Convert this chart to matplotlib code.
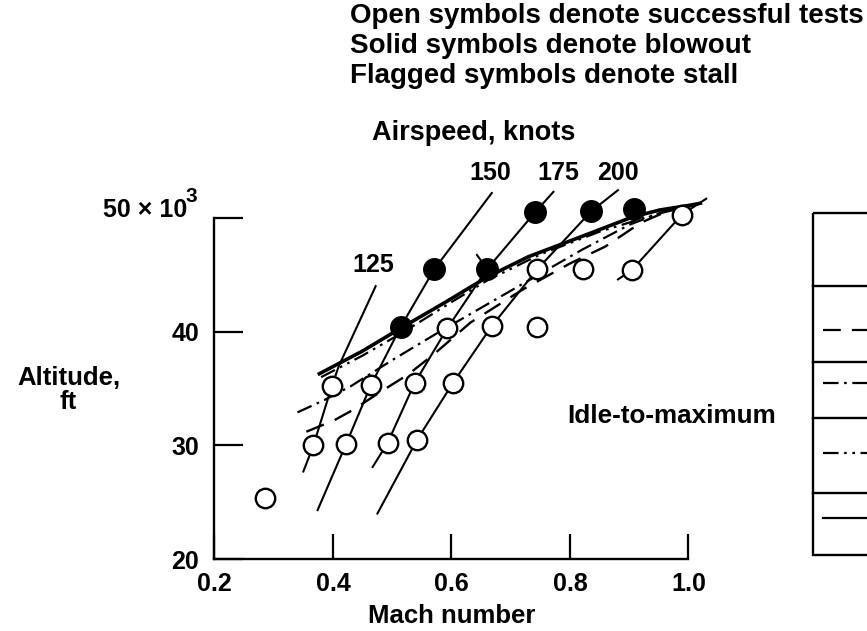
import matplotlib
matplotlib.use("Agg")
import matplotlib.pyplot as plt
from matplotlib.patches import Rectangle

plt.rcParams['font.family'] = ['Liberation Sans', 'DejaVu Sans']
plt.rcParams['font.weight'] = 'bold'

# test points (Mach, altitude in 1000 ft)
open_mach = [0.285, 0.367, 0.422, 0.492, 0.542, 0.398, 0.464, 0.538, 0.602,
             0.593, 0.668, 0.744, 0.745, 0.822, 0.904, 0.989]
open_alt = [25.4, 30.0, 30.1, 30.2, 30.5, 35.2, 35.3, 35.5, 35.45,
            40.3, 40.5, 40.4, 45.5, 45.5, 45.4, 50.3]
solid_mach = [0.514, 0.571, 0.660, 0.741, 0.836, 0.908]
solid_alt = [40.4, 45.5, 45.5, 50.5, 50.6, 50.75]

# stall (flagged) points and flag tips
stall_mach = [0.660, 0.989]
stall_alt = [45.5, 50.3]
flag_mach = [0.643, 1.030]
flag_alt = [46.75, 51.7]

# constant airspeed lines
kt125_mach = [0.350, 0.367, 0.398, 0.410, 0.472]
kt125_alt = [27.7, 30.0, 35.2, 37.0, 44.0]
kt150_mach = [0.374, 0.422, 0.464, 0.514, 0.571, 0.668]
kt150_alt = [24.3, 30.1, 35.3, 40.4, 45.5, 52.2]
kt175_mach = [0.467, 0.492, 0.538, 0.593, 0.660, 0.741, 0.772]
kt175_alt = [28.1, 30.2, 35.5, 40.3, 45.5, 50.5, 52.3]
kt200_mach = [0.475, 0.542, 0.602, 0.668, 0.745, 0.836, 0.881]
kt200_alt = [24.0, 30.5, 35.45, 40.5, 45.5, 50.6, 52.45]
extra_mach = [0.881, 0.904, 0.989]
extra_alt = [44.6, 45.4, 50.3]

# idle-to-maximum boundaries
solid_b_mach = [0.377, 0.45, 0.514, 0.59, 0.66, 0.73, 0.806, 0.906, 0.951, 1.0, 1.02]
solid_b_alt = [36.3, 38.3, 40.3, 42.6, 44.8, 46.6, 48.1, 50.1, 50.7, 51.1, 51.3]
dd_b_mach = [0.380, 0.45, 0.52, 0.60, 0.66, 0.75, 0.85, 0.95, 1.0, 1.02]
dd_b_alt = [36.0, 37.9, 40.0, 42.6, 44.5, 46.8, 48.8, 50.4, 51.0, 51.3]
dashdot_b_mach = [0.34, 0.386, 0.43, 0.50, 0.58, 0.66, 0.74, 0.82, 0.90, 0.96, 1.0, 1.02]
dashdot_b_alt = [32.9, 34.0, 35.2, 37.5, 40.0, 42.4, 44.8, 47.2, 49.4, 50.6, 51.0, 51.3]
dashed_b_mach = [0.355, 0.402, 0.433, 0.489, 0.526, 0.57, 0.632, 0.72, 0.80,
                 0.86, 0.92, 0.96, 1.0, 1.02]
dashed_b_alt = [31.2, 32.2, 33.1, 35.0, 36.2, 38.0, 40.8, 43.7, 46.0,
                47.5, 49.6, 50.5, 51.0, 51.3]

x_ticks = [0.2, 0.4, 0.6, 0.8, 1.0]
x_labels = ['0.2', '0.4', '0.6', '0.8', '1.0']
y_ticks = [20, 30, 40, 50]
y_labels = ['20', '30', '40', '']

dashed = (0, (8, 5))
dashdot = (0, (7, 2.5, 1.2, 2.5))
dashdotdot = (0, (7, 2.5, 1.2, 2.5, 1.2, 2.5))

fig = plt.figure(figsize=(8.67, 6.31), dpi=100)

# overlay in pixel coordinates for annotations and the legend box
ovl = fig.add_axes([0, 0, 1, 1])
ovl.set_xlim(0, 867)
ovl.set_ylim(631, 0)
ovl.axis('off')

ax = fig.add_axes([0.2474, 0.1141, 0.5467, 0.5404])
ax.set_facecolor('none')

fs = 18
for m, a in [(kt125_mach, kt125_alt), (kt150_mach, kt150_alt),
             (kt175_mach, kt175_alt), (kt200_mach, kt200_alt),
             (extra_mach, extra_alt)]:
    ax.plot(m, a, color='black', lw=1.5, clip_on=False, zorder=2)

ax.plot(dashed_b_mach, dashed_b_alt, color='black', lw=1.7, ls=dashed,
        clip_on=False, zorder=3)
ax.plot(dashdot_b_mach, dashdot_b_alt, color='black', lw=1.6, ls=dashdot,
        clip_on=False, zorder=3)
ax.plot(dd_b_mach, dd_b_alt, color='black', lw=1.6, ls=dashdotdot,
        clip_on=False, zorder=3)
ax.plot(solid_b_mach, solid_b_alt, color='black', lw=2.6,
        clip_on=False, zorder=3)

for i in range(len(stall_mach)):
    ax.plot([stall_mach[i], flag_mach[i]], [stall_alt[i], flag_alt[i]],
            color='black', lw=1.5, clip_on=False, zorder=3)

ax.plot(open_mach, open_alt, 'o', ms=14, mfc='white', mec='black', mew=1.7,
        clip_on=False, zorder=5)
ax.plot(solid_mach, solid_alt, 'o', ms=15.5, mfc='black', mec='black',
        clip_on=False, zorder=5)

ax.set_xlim(0.2, 1.0)
ax.set_ylim(20, 50)
for s in ['top', 'right']:
    ax.spines[s].set_visible(False)
for s in ['left', 'bottom']:
    ax.spines[s].set_linewidth(1.7)
ax.set_xticks(x_ticks)
ax.set_xticklabels(x_labels, fontsize=fs, fontweight='bold')
ax.set_yticks(y_ticks)
ax.set_yticklabels(y_labels, fontsize=fs, fontweight='bold')
ax.tick_params(axis='x', direction='in', length=18, width=1.6, pad=9)
ax.tick_params(axis='y', direction='in', length=21, width=1.6, pad=11)
ax.set_xlabel('Mach number', fontsize=18.5, fontweight='bold', labelpad=6)

# top y label with a large exponent
ovl.text(187, 210, '50 × 10', ha='right', va='center', fontsize=fs,
         fontweight='bold')
ovl.text(186, 196, '3', ha='left', va='center', fontsize=15,
         fontweight='bold')

ovl.text(120, 390, 'Altitude,\nft', ha='right', va='center',
         fontsize=18.5, fontweight='bold', linespacing=1.05,
         multialignment='center')

hs = 20
ovl.text(350, 16, 'Open symbols denote successful tests', ha='left',
         va='center', fontsize=hs, fontweight='bold')
ovl.text(350, 46, 'Solid symbols denote blowout', ha='left',
         va='center', fontsize=hs, fontweight='bold')
ovl.text(350, 76, 'Flagged symbols denote stall', ha='left',
         va='center', fontsize=hs, fontweight='bold')
ovl.text(474, 133, 'Airspeed, knots', ha='center', va='center',
         fontsize=19.5, fontweight='bold')
for lab, x, y in [('125', 373, 265), ('150', 490, 173), ('175', 558, 173),
                  ('200', 618, 173)]:
    ovl.text(x, y, lab, ha='center', va='center', fontsize=fs,
             fontweight='bold')
ovl.text(776, 416, 'Idle-to-maximum', ha='right', va='center',
         fontsize=18.8, fontweight='bold')

# legend box (cut at right edge)
ovl.add_patch(Rectangle((813, 213), 120, 342, fill=False, lw=1.7,
                        ec='black', clip_on=False))
for y in [286, 362, 418, 493]:
    ovl.plot([813, 900], [y, y], color='black', lw=1.7)
ovl.plot([823, 870], [330, 330], color='black', lw=1.6, ls=dashed)
ovl.plot([823, 870], [383, 383], color='black', lw=1.6, ls=dashdot)
ovl.plot([823, 870], [453, 453], color='black', lw=1.6, ls=dashdotdot)
ovl.plot([823, 870], [518, 518], color='black', lw=1.6)
ovl.set_xlim(0, 867)
ovl.set_ylim(631, 0)

fig.savefig('out.png', dpi=100)
